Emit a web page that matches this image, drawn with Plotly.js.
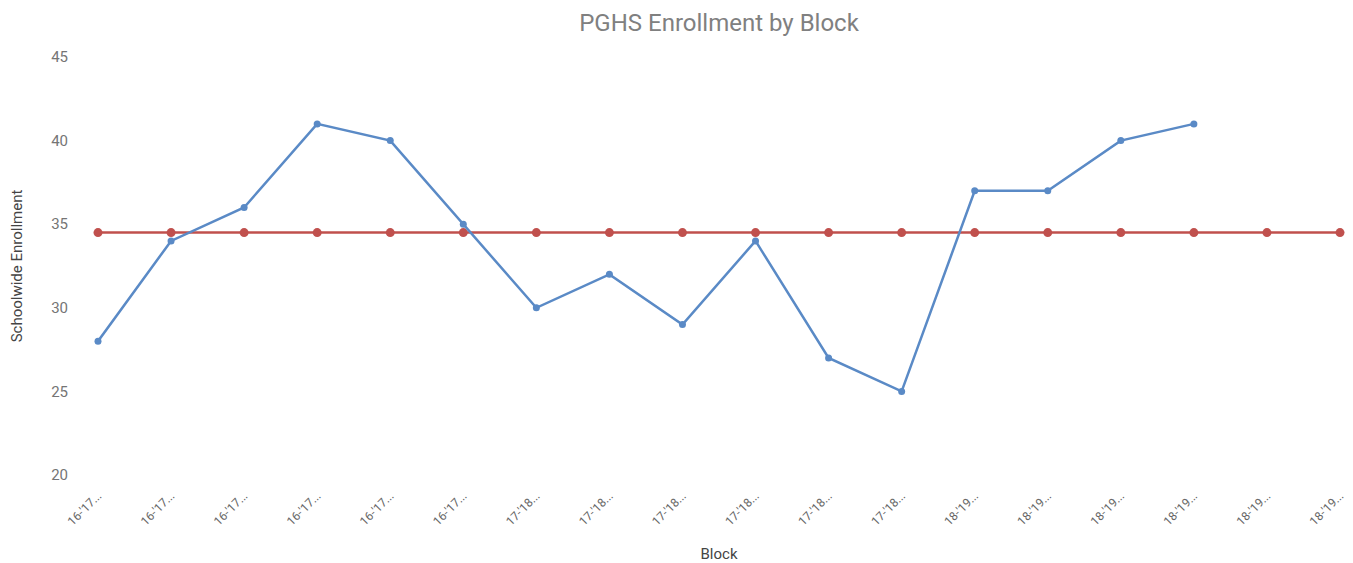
<!DOCTYPE html>
<html>
<head>
<meta charset="utf-8">
<script src="https://cdn.plot.ly/plotly-3.0.1.min.js"></script>
<style>html,body{margin:0;padding:0;background:#fff;}#chart{width:1353px;height:563px;}</style>
</head>
<body>
<div id="chart"></div>
<script>
var blockLabels = ["16-'17...","16-'17...","16-'17...","16-'17...","16-'17...","16-'17...",
  "17-'18...","17-'18...","17-'18...","17-'18...","17-'18...","17-'18...",
  "18-'19...","18-'19...","18-'19...","18-'19...","18-'19...","18-'19..."];
var enrollment = [28,34,36,41,40,35,30,32,29,34,27,25,37,37,40,41,null,null];
var average = [34.5,34.5,34.5,34.5,34.5,34.5,34.5,34.5,34.5,34.5,34.5,34.5,34.5,34.5,34.5,34.5,34.5,34.5];
var yTicks = [20,25,30,35,40,45];

var idx = blockLabels.map(function(_, i){ return i; });

var traces = [
  {x: idx, y: average, type: 'scatter', mode: 'lines+markers', name: 'Average',
   line: {color: '#c0504d', width: 2.5}, marker: {color: '#c0504d', size: 9}, cliponaxis: false},
  {x: idx, y: enrollment, type: 'scatter', mode: 'lines+markers', name: 'Enrollment',
   line: {color: '#5a8ac6', width: 2.5}, marker: {color: '#5a8ac6', size: 7}, cliponaxis: false}
];

var layout = {
  width: 1353, height: 563,
  margin: {l: 98, r: 13, t: 57, b: 88},
  paper_bgcolor: '#fff', plot_bgcolor: '#fff',
  showlegend: false,
  font: {family: 'Roboto, Arial, sans-serif', color: '#757575'},
  title: {text: 'PGHS Enrollment by Block', font: {size: 24, color: '#808080', family: 'Roboto, Arial, sans-serif'},
          x: 0.5, xref: 'paper', y: 0.959, yref: 'container', yanchor: 'middle'},
  xaxis: {
    range: [0, 17], tickmode: 'array', tickvals: idx, ticktext: blockLabels,
    tickangle: -45, tickfont: {size: 12, color: '#666666'},
    showgrid: false, zeroline: false, showline: false,
    ticks: 'outside', ticklen: 8, tickcolor: 'rgba(0,0,0,0)',
    title: {text: 'Block', font: {size: 15, color: '#444'}, standoff: 26}
  },
  yaxis: {
    range: [20, 45], tickmode: 'array', tickvals: yTicks,
    tickfont: {size: 15, color: '#757575'},
    showgrid: false, zeroline: false, showline: false,
    ticks: 'outside', ticklen: 26, tickcolor: 'rgba(0,0,0,0)',
    title: {text: 'Schoolwide Enrollment', font: {size: 15, color: '#444'}, standoff: 24}
  }
};

Plotly.newPlot('chart', traces, layout, {displayModeBar: false, staticPlot: true});
</script>
</body>
</html>
